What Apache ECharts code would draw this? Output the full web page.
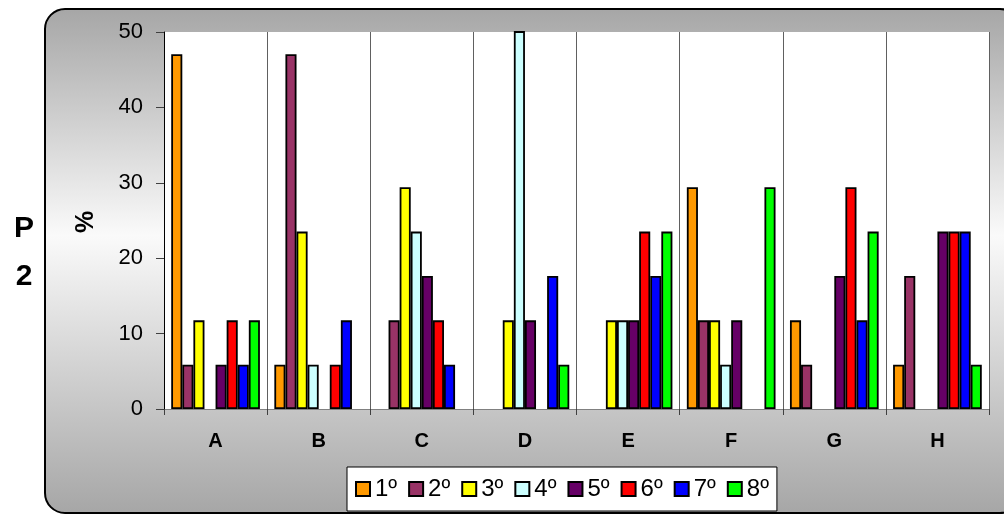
<!DOCTYPE html>
<html><head><meta charset="utf-8">
<script src="https://cdn.jsdelivr.net/npm/echarts@6/dist/echarts.min.js"></script>
<style>html,body{margin:0;padding:0;background:#fff}#c{width:1004px;height:515px}</style>
</head><body><div id="c"></div>
<script>
const categories = ['A','B','C','D','E','F','G','H'];
const seriesNames = ['1º','2º','3º','4º','5º','6º','7º','8º'];
const s1 = [47.06, 5.88, 0, 0, 0, 29.41, 11.76, 5.88];
const s2 = [5.88, 47.06, 11.76, 0, 0, 11.76, 5.88, 17.65];
const s3 = [11.76, 23.53, 29.41, 11.76, 11.76, 11.76, 0, 0];
const s4 = [0, 5.88, 23.53, 52.94, 11.76, 5.88, 0, 0];
const s5 = [5.88, 0, 17.65, 11.76, 11.76, 11.76, 17.65, 23.53];
const s6 = [11.76, 5.88, 11.76, 0, 23.53, 0, 29.41, 23.53];
const s7 = [5.88, 11.76, 5.88, 17.65, 17.65, 0, 11.76, 23.53];
const s8 = [11.76, 0, 0, 5.88, 23.53, 29.41, 23.53, 5.88];
const yTicks = [0, 10, 20, 30, 40, 50];
const colors = ['#FF9900','#993366','#FFFF00','#CCFFFF','#660066','#FF0000','#0000FF','#00FF00'];
const allSeries = [s1,s2,s3,s4,s5,s6,s7,s8];
const FONT = 'Liberation Sans, Arial, sans-serif';

const chart = echarts.init(document.getElementById('c'));
chart.setOption({
  animation: false,
  color: colors,
  graphic: [
    {type:'rect', z:-10, shape:{x:45, y:9, width:975, height:504, r:20},
     style:{fill:new echarts.graphic.LinearGradient(0,0,0,1,[
       {offset:0,color:'#a6a6a6'},{offset:0.45,color:'#fafafa'},{offset:1,color:'#a6a6a6'}]),
       stroke:'#000', lineWidth:2}},
    {type:'text', x:24, y:229, style:{text:'P', font:'bold 30px '+FONT, fill:'#000', align:'center', verticalAlign:'middle'}},
    {type:'text', x:24, y:277, style:{text:'2', font:'bold 30px '+FONT, fill:'#000', align:'center', verticalAlign:'middle'}},
    {type:'text', x:86, y:222, rotation:Math.PI/2, style:{text:'%', font:'bold 25px '+FONT, fill:'#000', align:'center', verticalAlign:'middle'}}
  ],
  grid: {left:164, top:32, right:15, bottom:106, show:true, backgroundColor:'#fff', borderWidth:0},
  legend: {
    left:347, top:467, orient:'horizontal',
    data: seriesNames,
    backgroundColor:'#fff', borderColor:'#000', borderWidth:1,
    padding:[10,8,10,8], itemGap:11, itemWidth:14, itemHeight:14,
    icon:'rect',
    textStyle:{fontFamily:FONT, fontSize:24, color:'#000'}
  },
  xAxis: {
    type:'category', data:categories,
    axisLine:{show:true, lineStyle:{color:'#808080', width:1}},
    axisTick:{show:true, length:6, lineStyle:{color:'#404040'}},
    splitLine:{show:true, lineStyle:{color:'#606060', width:1}},
    axisLabel:{fontFamily:FONT, fontSize:20, fontWeight:'bold', color:'#000', margin:22}
  },
  yAxis: {
    type:'value', min:0, max:50, interval:10,
    axisLine:{show:true, lineStyle:{color:'#000', width:1}},
    axisTick:{show:true, length:8, lineStyle:{color:'#404040'}},
    splitLine:{show:false},
    axisLabel:{fontFamily:FONT, fontSize:22, color:'#000', margin:21,
      formatter: v => yTicks.includes(v) ? String(v) : ''}
  },
  series: allSeries.map((d,i)=>({
    name: seriesNames[i], type:'bar',
    barGap:'0%', barCategoryGap:'14%',
    clip:true,
    data: d.map(v => v === 0 ? '-' : v),
    itemStyle:{color:colors[i], borderColor:'#000', borderWidth:1.8}
  }))
});
</script></body></html>
